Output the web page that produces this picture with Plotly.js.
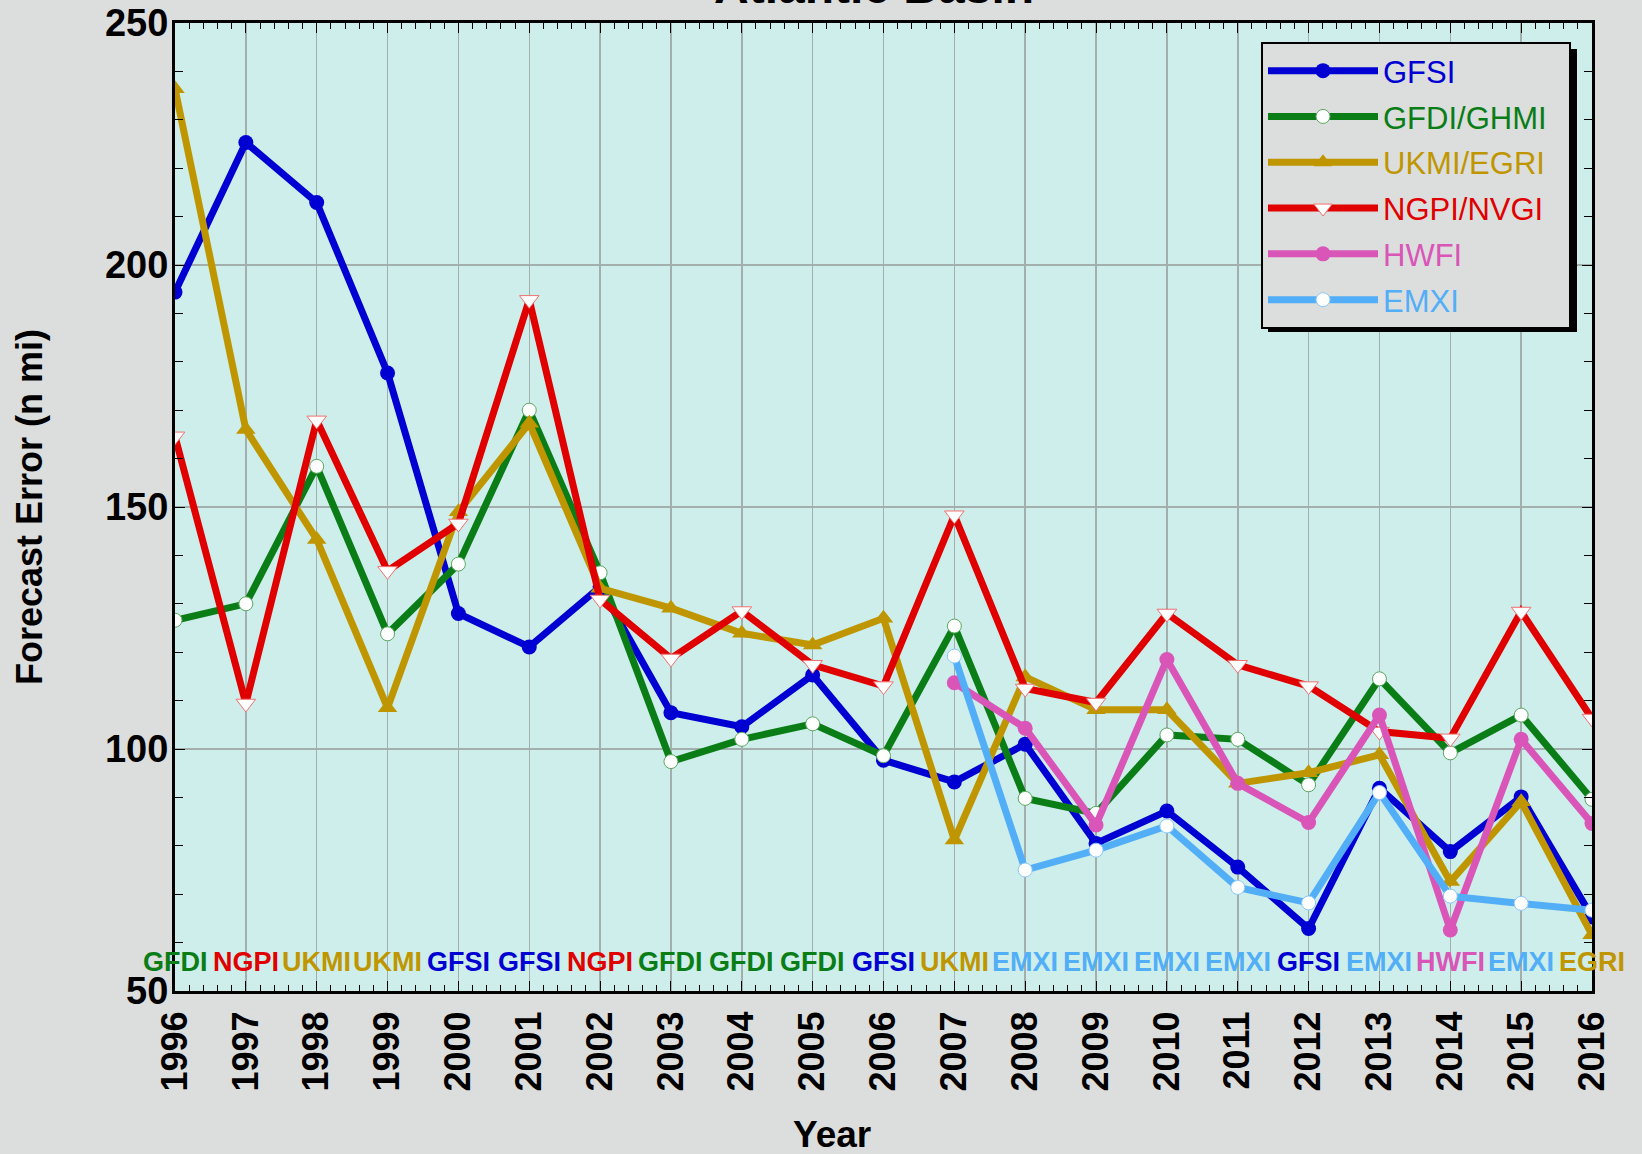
<!DOCTYPE html>
<html>
<head>
<meta charset="utf-8">
<script src="https://cdn.plot.ly/plotly-3.0.1.min.js"></script>
<style>
html,body{margin:0;padding:0;background:#dcdedd;}
#chart{width:1642px;height:1154px;}
</style>
</head>
<body>
<div id="chart"></div>
<script>
const years = [1996,1997,1998,1999,2000,2001,2002,2003,2004,2005,2006,2007,2008,2009,2010,2011,2012,2013,2014,2015,2016];
const yearsLate = [2007,2008,2009,2010,2011,2012,2013,2014,2015,2016];

const gfsi = [194.4,225.3,212.9,177.7,128.0,121.1,133.5,107.5,104.6,115.3,97.7,93.2,101.0,80.5,87.2,75.6,62.9,91.9,78.8,90.1,65.3];
const gfdi = [126.6,130.0,158.4,123.8,138.2,170.0,136.4,97.4,102.0,105.2,98.6,125.4,89.8,86.7,102.9,102.0,92.6,114.5,99.2,107.0,89.6];
const ukmi = [236.4,166.0,143.3,108.5,149.0,167.3,133.2,129.1,123.9,121.5,127.0,81.2,114.9,108.1,108.1,92.9,95.1,98.8,72.6,89.1,61.6];
const ngpi = [164.6,109.4,167.9,136.8,146.6,192.8,130.9,118.7,128.5,117.4,113.0,148.3,112.5,109.6,128.0,117.4,113.0,103.6,102.2,128.4,106.3];
const hwfi = [113.7,104.3,84.3,118.5,92.9,84.8,107.0,62.6,102.0,84.6];
const emxi = [119.2,75.0,79.1,84.1,71.4,68.2,91.0,69.6,68.1,66.7];

const seriesNames = ['GFSI','GFDI/GHMI','UKMI/EGRI','NGPI/NVGI','HWFI','EMXI'];
const bestModel = ['GFDI','NGPI','UKMI','UKMI','GFSI','GFSI','NGPI','GFDI','GFDI','GFDI','GFSI','UKMI','EMXI','EMXI','EMXI','EMXI','GFSI','EMXI','HWFI','EMXI','EGRI'];
const bestLabelY = 56;
const chartTitle = 'Atlantic Basin';

const C = {
  GFSI:'#0000d2', GFDI:'#0a7d17', UKMI:'#bf9600', NGPI:'#e00000', HWFI:'#d955b8', EMXI:'#52aef7', EGRI:'#bf9600'
};

function nm(name, color, pad){ return '<span style="color:'+color+'">'+name+'</span>'+(pad||''); }

const FONT = 'Liberation Sans, Arial, sans-serif';
const LW = 7;
const traces = [
  {x:years, y:gfsi, name:nm(seriesNames[0],C.GFSI), legendgroup:'g1', mode:'lines+markers',
   line:{color:C.GFSI,width:LW}, marker:{symbol:'circle',size:15,color:C.GFSI}},
  {x:years, y:gfdi, name:nm(seriesNames[1],C.GFDI,'&nbsp;&nbsp;'), legendgroup:'g2', mode:'lines+markers',
   line:{color:C.GFDI,width:LW}, marker:{symbol:'circle',size:14,color:'#ffffff',line:{color:'#5aa860',width:1}}},
  {x:years, y:ukmi, name:nm(seriesNames[2],C.UKMI), legendgroup:'g3', mode:'lines+markers',
   line:{color:C.UKMI,width:LW}, marker:{symbol:'triangle-up',size:17,color:C.UKMI}},
  {x:years, y:ngpi, name:nm(seriesNames[3],C.NGPI), legendgroup:'g4', mode:'lines+markers',
   line:{color:C.NGPI,width:LW}, marker:{symbol:'triangle-down',size:17,color:'#ffffff',line:{color:'#f07070',width:1}}},
  {x:yearsLate, y:hwfi, name:nm(seriesNames[4],C.HWFI), legendgroup:'g5', mode:'lines+markers',
   line:{color:C.HWFI,width:LW}, marker:{symbol:'circle',size:15,color:C.HWFI}},
  {x:yearsLate, y:emxi, name:nm(seriesNames[5],C.EMXI), legendgroup:'g6', mode:'lines+markers',
   line:{color:C.EMXI,width:LW}, marker:{symbol:'circle',size:14,color:'#ffffff',line:{color:'#8cc8f8',width:1}}}
];

const L = 175, R = 1592, T = 23, B = 991;
const W = R-L, H = B-T;
function px2x(p){ return (p-L)/W; }
function py2y(p){ return 1-(p-T)/H; }

const annotations = years.map((yr,i)=>({
  x:yr, y:bestLabelY, xref:'x', yref:'y', text:bestModel[i], showarrow:false,
  font:{family:FONT, size:27, weight:700, color:C[bestModel[i]]},
  xanchor:'center', yanchor:'middle'
}));
annotations.push({
  text:'Year', xref:'paper', yref:'paper', x:px2x(832), y:py2y(1134), showarrow:false,
  xanchor:'center', yanchor:'middle', font:{family:FONT, size:37, weight:700, color:'#000'}
});
annotations.push({
  text:chartTitle, xref:'paper', yref:'paper', x:px2x(874), y:py2y(15), showarrow:false,
  xanchor:'center', yanchor:'bottom', font:{family:FONT, size:48, weight:700, color:'#000'}
});

const layout = {
  width:1642, height:1154,
  margin:{l:L, r:1642-R, t:T, b:1154-B, pad:0},
  paper_bgcolor:'#dcdedd',
  plot_bgcolor:'#cdeeea',
  showlegend:true,
  legend:{x:px2x(1571), xanchor:'right', y:py2y(42), yanchor:'top',
          bgcolor:'#dcdedd', bordercolor:'#000', borderwidth:2,
          font:{family:FONT, size:31, color:'#000'},
          itemwidth:110, tracegroupgap:2.5},
  xaxis:{
    range:[1996,2016], tickmode:'array', tickvals:years, ticktext:years.map(String),
    tickangle:-90, ticks:'inside', ticklen:10, tickwidth:1, tickcolor:'#000',
    ticklabelstandoff:3,
    tickfont:{family:FONT, size:36, weight:700, color:'#000'},
    showgrid:true, gridcolor:'#a3afad', gridwidth:1.5,
    showline:true, linecolor:'#000', linewidth:3, mirror:'ticks', zeroline:false,
    minor:{dtick:0.2, tick0:1996, ticks:'inside', ticklen:6, tickcolor:'#000', tickwidth:1, showgrid:false}
  },
  yaxis:{
    range:[50,250], tickmode:'array', tickvals:[50,100,150,200,250], ticktext:['50','100','150','200','250'],
    ticks:'inside', ticklen:10, tickwidth:1, tickcolor:'#000', ticklabelstandoff:-4,
    tickfont:{family:FONT, size:38, weight:700, color:'#000'},
    showgrid:true, gridcolor:'#a3afad', gridwidth:1.5,
    showline:true, linecolor:'#000', linewidth:3, mirror:'ticks', zeroline:false,
    minor:{dtick:10, tick0:50, ticks:'inside', ticklen:8, tickcolor:'#000', tickwidth:1, showgrid:false},
    title:{text:'Forecast Error (n mi)', standoff:52, font:{family:FONT, size:36, weight:700, color:'#000'}}
  },
  annotations:annotations,
  shapes:[
    {type:'rect', xref:'paper', yref:'paper', x0:px2x(1268), x1:px2x(1577), y0:py2y(332), y1:py2y(49),
     fillcolor:'#000', line:{width:0}, layer:'above'}
  ]
};

Plotly.newPlot('chart', traces, layout, {displayModeBar:false, staticPlot:true});
</script>
</body>
</html>
